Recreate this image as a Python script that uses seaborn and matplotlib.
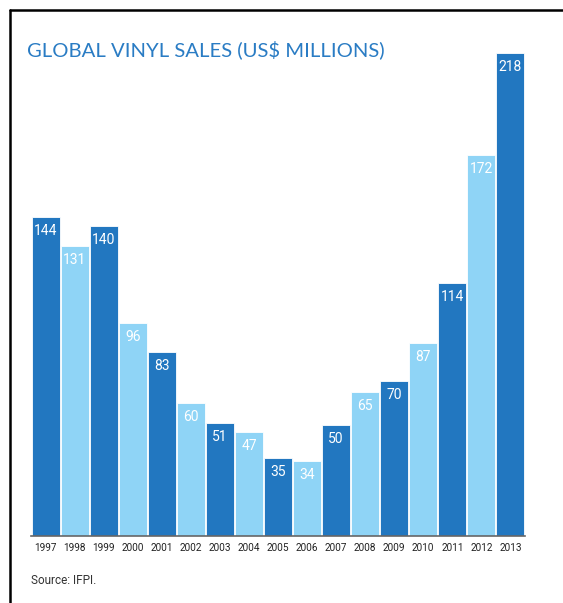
import matplotlib
matplotlib.use("Agg")
import matplotlib.pyplot as plt
import seaborn as sns
import pandas as pd
from matplotlib.lines import Line2D

years = ["1997", "1998", "1999", "2000", "2001", "2002", "2003", "2004", "2005",
         "2006", "2007", "2008", "2009", "2010", "2011", "2012", "2013"]
sales = [144, 131, 140, 96, 83, 60, 51, 47, 35, 34, 50, 65, 70, 87, 114, 172, 218]
title = "GLOBAL VINYL SALES (US$ MILLIONS)"
source = "Source: IFPI."

dark = "#2277c0"
light = "#8fd4f6"
colors = [dark if i % 2 == 0 else light for i in range(len(years))]

sns.set_theme(style="white")
plt.rcParams["font.family"] = ["Roboto", "DejaVu Sans"]

df = pd.DataFrame({"year": years, "sales": sales})

fig = plt.figure(figsize=(5.63, 6.03), dpi=100)
ax = fig.add_axes([31 / 563, 1 - 536 / 603, (525 - 31) / 563, (536 - 52.7) / 603])
sns.barplot(data=df, x="year", y="sales", hue="year", palette=colors, legend=False,
            saturation=1, width=0.965, edgecolor="white", linewidth=0.6, ax=ax)
ax.set_xlim(-0.5, len(years) - 0.5)
ax.set_ylim(0, 218)
ax.set_xlabel("")
ax.set_ylabel("")
ax.set_yticks([])
for s in ["top", "right", "left"]:
    ax.spines[s].set_visible(False)
ax.spines["bottom"].set_color("#666666")
ax.spines["bottom"].set_linewidth(1.2)
ax.tick_params(axis="x", length=0, pad=5, labelsize=7.2, labelcolor="#222222")

for i, v in enumerate(sales):
    ax.annotate(str(v), (i, v), xytext=(0, -5), textcoords="offset points",
                ha="center", va="top", color="white", fontsize=10)

fig.text(27 / 563, 1 - 50 / 603, title, color="#2a7cc4", fontsize=14.6,
         family=["Lato", "DejaVu Sans"], va="center", ha="left")
fig.text(31 / 563, 1 - 580 / 603, source, color="#333333", fontsize=8.5,
         va="center", ha="left")

fig.add_artist(Line2D([9.5 / 563, 9.5 / 563], [0, 1 - 9.5 / 603], color="black",
                      linewidth=1.8, transform=fig.transFigure))
fig.add_artist(Line2D([9.5 / 563, 1], [1 - 9.5 / 603, 1 - 9.5 / 603], color="black",
                      linewidth=1.8, transform=fig.transFigure))

fig.savefig("out.png", dpi=100)
